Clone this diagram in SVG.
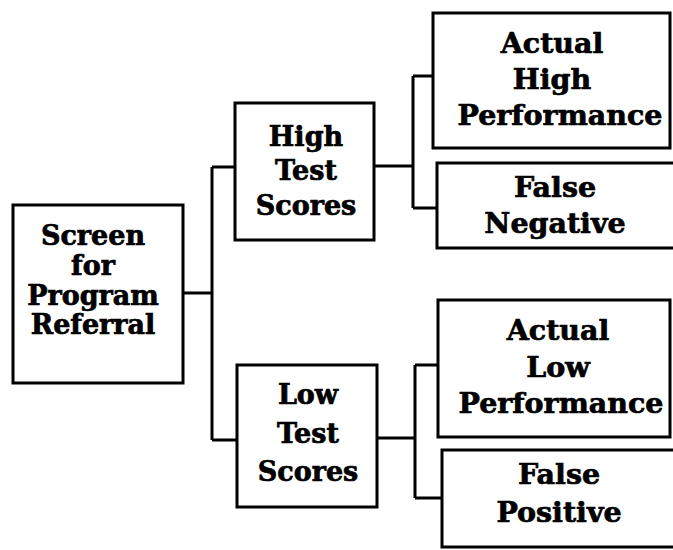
<svg xmlns="http://www.w3.org/2000/svg" width="673" height="550" viewBox="0 0 673 550">
<style>
.box{fill:#fff;stroke:#000;stroke-width:3}
.lbl{font-family:"DejaVu Serif","Liberation Serif",serif;font-weight:bold;font-size:27px;fill:#000;stroke:#000;stroke-width:0.7;text-anchor:middle}
.big{font-size:28.5px}
.con{fill:none;stroke:#000;stroke-width:3}
</style>
<rect width="673" height="550" fill="#fff"/>
<g id="connectors">
<path class="con" d="M183 293 H212 M212 167 V440 M212 167 H235 M212 440 H237"/>
<path class="con" d="M374 166 H413 M413 76 V208 M413 76 H433 M413 208 H437"/>
<path class="con" d="M377 438 H415 M415 365 V498 M415 365 H438 M415 498 H442"/>
</g>
<g id="screen">
<rect class="box" x="13" y="205" width="170" height="178"/>
<text class="lbl" x="93" y="245">Screen</text>
<text class="lbl" x="93" y="275">for</text>
<text class="lbl" x="93" y="305">Program</text>
<text class="lbl" x="93" y="334">Referral</text>
</g>
<g id="high">
<rect class="box" x="235" y="103" width="139" height="137"/>
<text class="lbl" x="306" y="146">High</text>
<text class="lbl" x="306" y="180">Test</text>
<text class="lbl" x="306" y="215">Scores</text>
</g>
<g id="low">
<rect class="box" x="237" y="365" width="140" height="142"/>
<text class="lbl" x="308" y="404">Low</text>
<text class="lbl" x="308" y="443">Test</text>
<text class="lbl" x="308" y="481">Scores</text>
</g>
<g id="actual-high">
<rect class="box" x="433" y="13" width="237" height="135"/>
<text class="lbl big" x="552" y="53">Actual</text>
<text class="lbl big" x="552" y="89">High</text>
<text class="lbl big" x="560" y="125">Performance</text>
</g>
<g id="false-negative">
<rect class="box" x="437" y="163" width="240" height="85"/>
<text class="lbl big" x="555" y="197">False</text>
<text class="lbl big" x="555" y="233">Negative</text>
</g>
<g id="actual-low">
<rect class="box" x="438" y="300" width="232" height="137"/>
<text class="lbl big" x="558" y="340">Actual</text>
<text class="lbl big" x="558" y="377">Low</text>
<text class="lbl big" x="561" y="413">Performance</text>
</g>
<g id="false-positive">
<rect class="box" x="442" y="450" width="235" height="97"/>
<text class="lbl big" x="559" y="484">False</text>
<text class="lbl big" x="559" y="522">Positive</text>
</g>
</svg>
